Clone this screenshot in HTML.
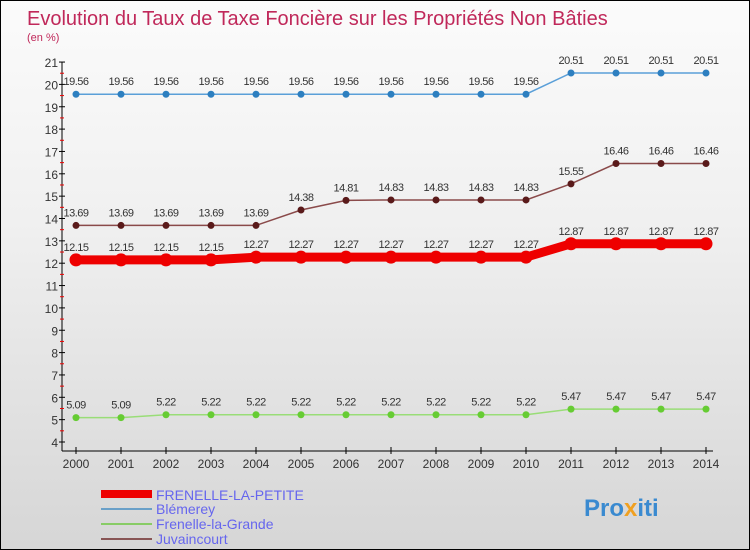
<!DOCTYPE html>
<html><head><meta charset="utf-8"><style>
body{margin:0;}
#c{position:relative;width:748px;height:548px;border:1px solid #000;background:linear-gradient(#fbfbfb,#f0f0f0 40%,#d6d6d6);overflow:hidden;font-family:"Liberation Sans",sans-serif;}
svg text{font-family:"Liberation Sans",sans-serif;}
</style></head><body>
<div id="c">
<svg id="s" width="748" height="548">
<text x="26" y="24" font-size="20" fill="#c0285a">Evolution du Taux de Taxe Foncière sur les Propriétés Non Bâties</text>
<text x="26" y="40" font-size="11" fill="#c0285a">(en %)</text>
<g id="ax"></g><g id="series"></g>
<g>
<rect x="100" y="489" width="51" height="8" fill="#ee0000"/>
<text x="155" y="499" font-size="14" fill="#6666ee">FRENELLE-LA-PETITE</text>
<rect x="100" y="507" width="51" height="2" fill="#6aa0c8"/>
<text x="155" y="513" font-size="14" fill="#6666ee">Blémerey</text>
<rect x="100" y="522" width="51" height="2" fill="#88cc66"/>
<text x="155" y="528" font-size="14" fill="#6666ee">Frenelle-la-Grande</text>
<rect x="100" y="537" width="51" height="2" fill="#885555"/>
<text x="155" y="543" font-size="14" fill="#6666ee">Juvaincourt</text>
</g>
<text x="583" y="515" font-size="24" font-weight="bold" fill="#3a8ad0">Pro<tspan fill="#f0a020">x</tspan>iti</text>
</svg></div>
<script>
const years=[2000,2001,2002,2003,2004,2005,2006,2007,2008,2009,2010,2011,2012,2013,2014];
const yTicks=[4,5,6,7,8,9,10,11,12,13,14,15,16,17,18,19,20,21];
const petite=[12.15,12.15,12.15,12.15,12.27,12.27,12.27,12.27,12.27,12.27,12.27,12.87,12.87,12.87,12.87];
const blemerey=[19.56,19.56,19.56,19.56,19.56,19.56,19.56,19.56,19.56,19.56,19.56,20.51,20.51,20.51,20.51];
const grande=[5.09,5.09,5.22,5.22,5.22,5.22,5.22,5.22,5.22,5.22,5.22,5.47,5.47,5.47,5.47];
const juv=[13.69,13.69,13.69,13.69,13.69,14.38,14.81,14.83,14.83,14.83,14.83,15.55,16.46,16.46,16.46];
const NS="http://www.w3.org/2000/svg";
const X=y=>75+(y-2000)*45;
const Y=v=>441-(v-4)*22.35;
function mk(t,a,p){const e=document.createElementNS(NS,t);for(const k in a)e.setAttribute(k,a[k]);p.appendChild(e);return e;}
const ax=document.getElementById('ax');
let e=mk('line',{x1:61,y1:Y(21),x2:61,y2:450,stroke:'#000'},ax);


e=mk('line',{x1:61,y1:450,x2:712,y2:450,stroke:'#000'},ax);


yTicks.forEach(v=>{
 mk('line',{x1:58,x2:64,y1:Y(v),y2:Y(v),stroke:'#000'},ax);
 if(v<21)mk('line',{x1:59,x2:63,y1:Y(v+0.5),y2:Y(v+0.5),stroke:'#e00'},ax);
 const t=mk('text',{x:57,y:Y(v)+5,'font-size':12,'text-anchor':'end',fill:'#333'},ax);t.textContent=v;
 
 
});
years.forEach(y=>{
 mk('line',{x1:X(y),x2:X(y),y1:446,y2:453,stroke:'#000'},ax);
 const t=mk('text',{x:X(y),y:467,'font-size':12,'text-anchor':'middle',fill:'#333'},ax);t.textContent=y;
 
 
});
const sg=document.getElementById('series');
function series(vals,name,col,dot,w,r){
 const g=mk('g',{},sg);
 
 
 mk('polyline',{points:vals.map((v,i)=>X(years[i])+','+Y(v)).join(' '),fill:'none',stroke:col,'stroke-width':w},g);
 vals.forEach((v,i)=>{
  const c=mk('circle',{cx:X(years[i]),cy:Y(v),r:r,fill:dot},g);
  
  
  const t=mk('text',{x:X(years[i]),y:Y(v)-9,'font-size':11,'text-anchor':'middle',fill:'#333','letter-spacing':'-0.5'},g);t.textContent=v.toFixed(2);
  
  
 });
}
series(blemerey,'blemerey','#5a9fd8','#2d7fc0',1.5,3.5);
series(juv,'juvaincourt','#8a4a4a','#5a1a1a',1.5,3.5);
series(grande,'frenelle-la-grande','#99dd77','#66cc33',1.5,3.5);
series(petite,'frenelle-la-petite','#ee0000','#ee0000',9,6.5);
</script>
</body></html>
